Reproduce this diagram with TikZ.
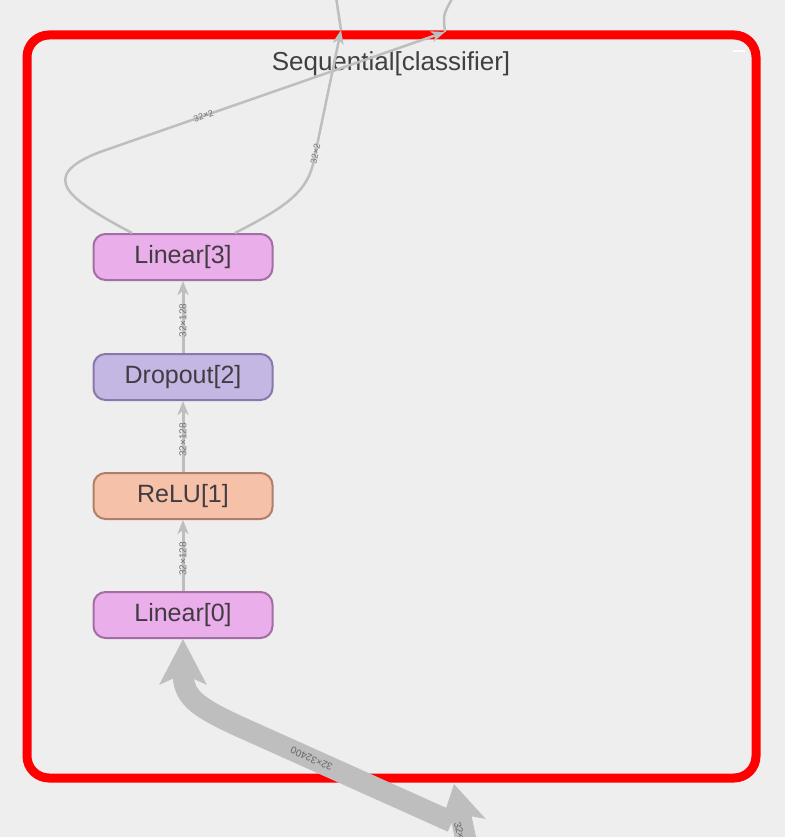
\documentclass[tikz,border=0pt]{standalone}
\usepackage{fontspec}
\setmainfont{Liberation Sans}
\usepackage{tikz}
\usetikzlibrary{arrows.meta}

\definecolor{bggray}{RGB}{238,238,238}
\definecolor{edgegray}{RGB}{190,190,190}
\definecolor{boxred}{RGB}{255,0,0}
\definecolor{linfill}{RGB}{234,174,234}
\definecolor{linedge}{RGB}{163,110,163}
\definecolor{dropfill}{RGB}{197,183,227}
\definecolor{dropedge}{RGB}{138,120,168}
\definecolor{relufill}{RGB}{245,194,169}
\definecolor{reluedge}{RGB}{176,126,106}
\definecolor{textgray}{RGB}{66,60,66}

\begin{document}
\begin{tikzpicture}[x=1pt,y=-1pt,
    op/.style={draw,line width=2pt,rounded corners=12pt,minimum width=179pt,minimum height=46pt,
      font=\fontsize{25}{30}\selectfont,text=textgray},
    edge/.style={draw=edgegray,line width=3pt,-{Stealth[length=14pt,width=11pt,inset=4pt]}},
    thinedge/.style={draw=edgegray,line width=2.5pt},
    band/.style={draw=edgegray,line width=21pt},
    elabel/.style={font=\fontsize{9}{10}\selectfont,text=black!55,inner sep=1pt},
    blabel/.style={font=\fontsize{10}{11}\selectfont,text=black!60,inner sep=1pt}]
  \clip (0,0) rectangle (785,837);
  \fill[bggray] (0,0) rectangle (785,837);
  \draw[boxred,line width=9pt,rounded corners=22pt] (27,35) rectangle (756,778);
  \draw[white,line width=2.5pt] (733,51) -- (745,51);
  \node[font=\fontsize{26}{30}\selectfont,text=black!75] (title) at (391,64) {Sequential[classifier]};

  \node[op,fill=linfill,draw=linedge] (lin0) at (183,615) {Linear[0]};
  \node[op,fill=relufill,draw=reluedge] (relu1) at (183,496) {ReLU[1]};
  \node[op,fill=dropfill,draw=dropedge] (drop2) at (183,377) {Dropout[2]};
  \node[op,fill=linfill,draw=linedge] (lin3) at (183,257) {Linear[3]};

  \foreach \a/\b in {lin0/relu1, relu1/drop2, drop2/lin3}
    \draw[edge] (\a) -- (\b) node[elabel,font=\fontsize{10}{11}\selectfont,pos=0.45,rotate=90] {32×128};

  \coordinate (out1) at (341,30);
  \coordinate (out2) at (445,32);
  \coordinate (up1) at (336,-3);
  \coordinate (up2) at (453,-3);
  \coordinate (bend) at (452,822);
  \coordinate (entry) at (454,784);
  \coordinate (src) at (467,845);

  \draw[edge,line width=2.5pt] ([xshift=-51pt]lin3.north) .. controls (70,200) and (35,177) .. (100,152)
    -- (out2) node[elabel,pos=0.3,rotate=19] {32×2};
  \draw[edge,line width=2.5pt] ([xshift=52pt]lin3.north) .. controls (290,205) and (308,190) .. (314,160)
    -- (out1) node[elabel,pos=0.05,rotate=78] {32×2};
  \draw[thinedge] (out1) -- (up1);
  \draw[thinedge] (out2) .. controls (443,15) .. (up2);

  \draw[band,-{Stealth[length=45pt,width=46pt,inset=10pt]}] (bend)
    -- node[blabel,pos=0.65,rotate=156] {32×32400} (236,725)
    .. controls (196,706) and (183,697) .. (lin0.south);
  \draw[band,-{Stealth[length=40pt,width=46pt,inset=9pt]}] (src) -- (entry);
  \node[blabel,rotate=-76,anchor=west] (inlabel) at (457,821) {32×32400};
\end{tikzpicture}
\end{document}
